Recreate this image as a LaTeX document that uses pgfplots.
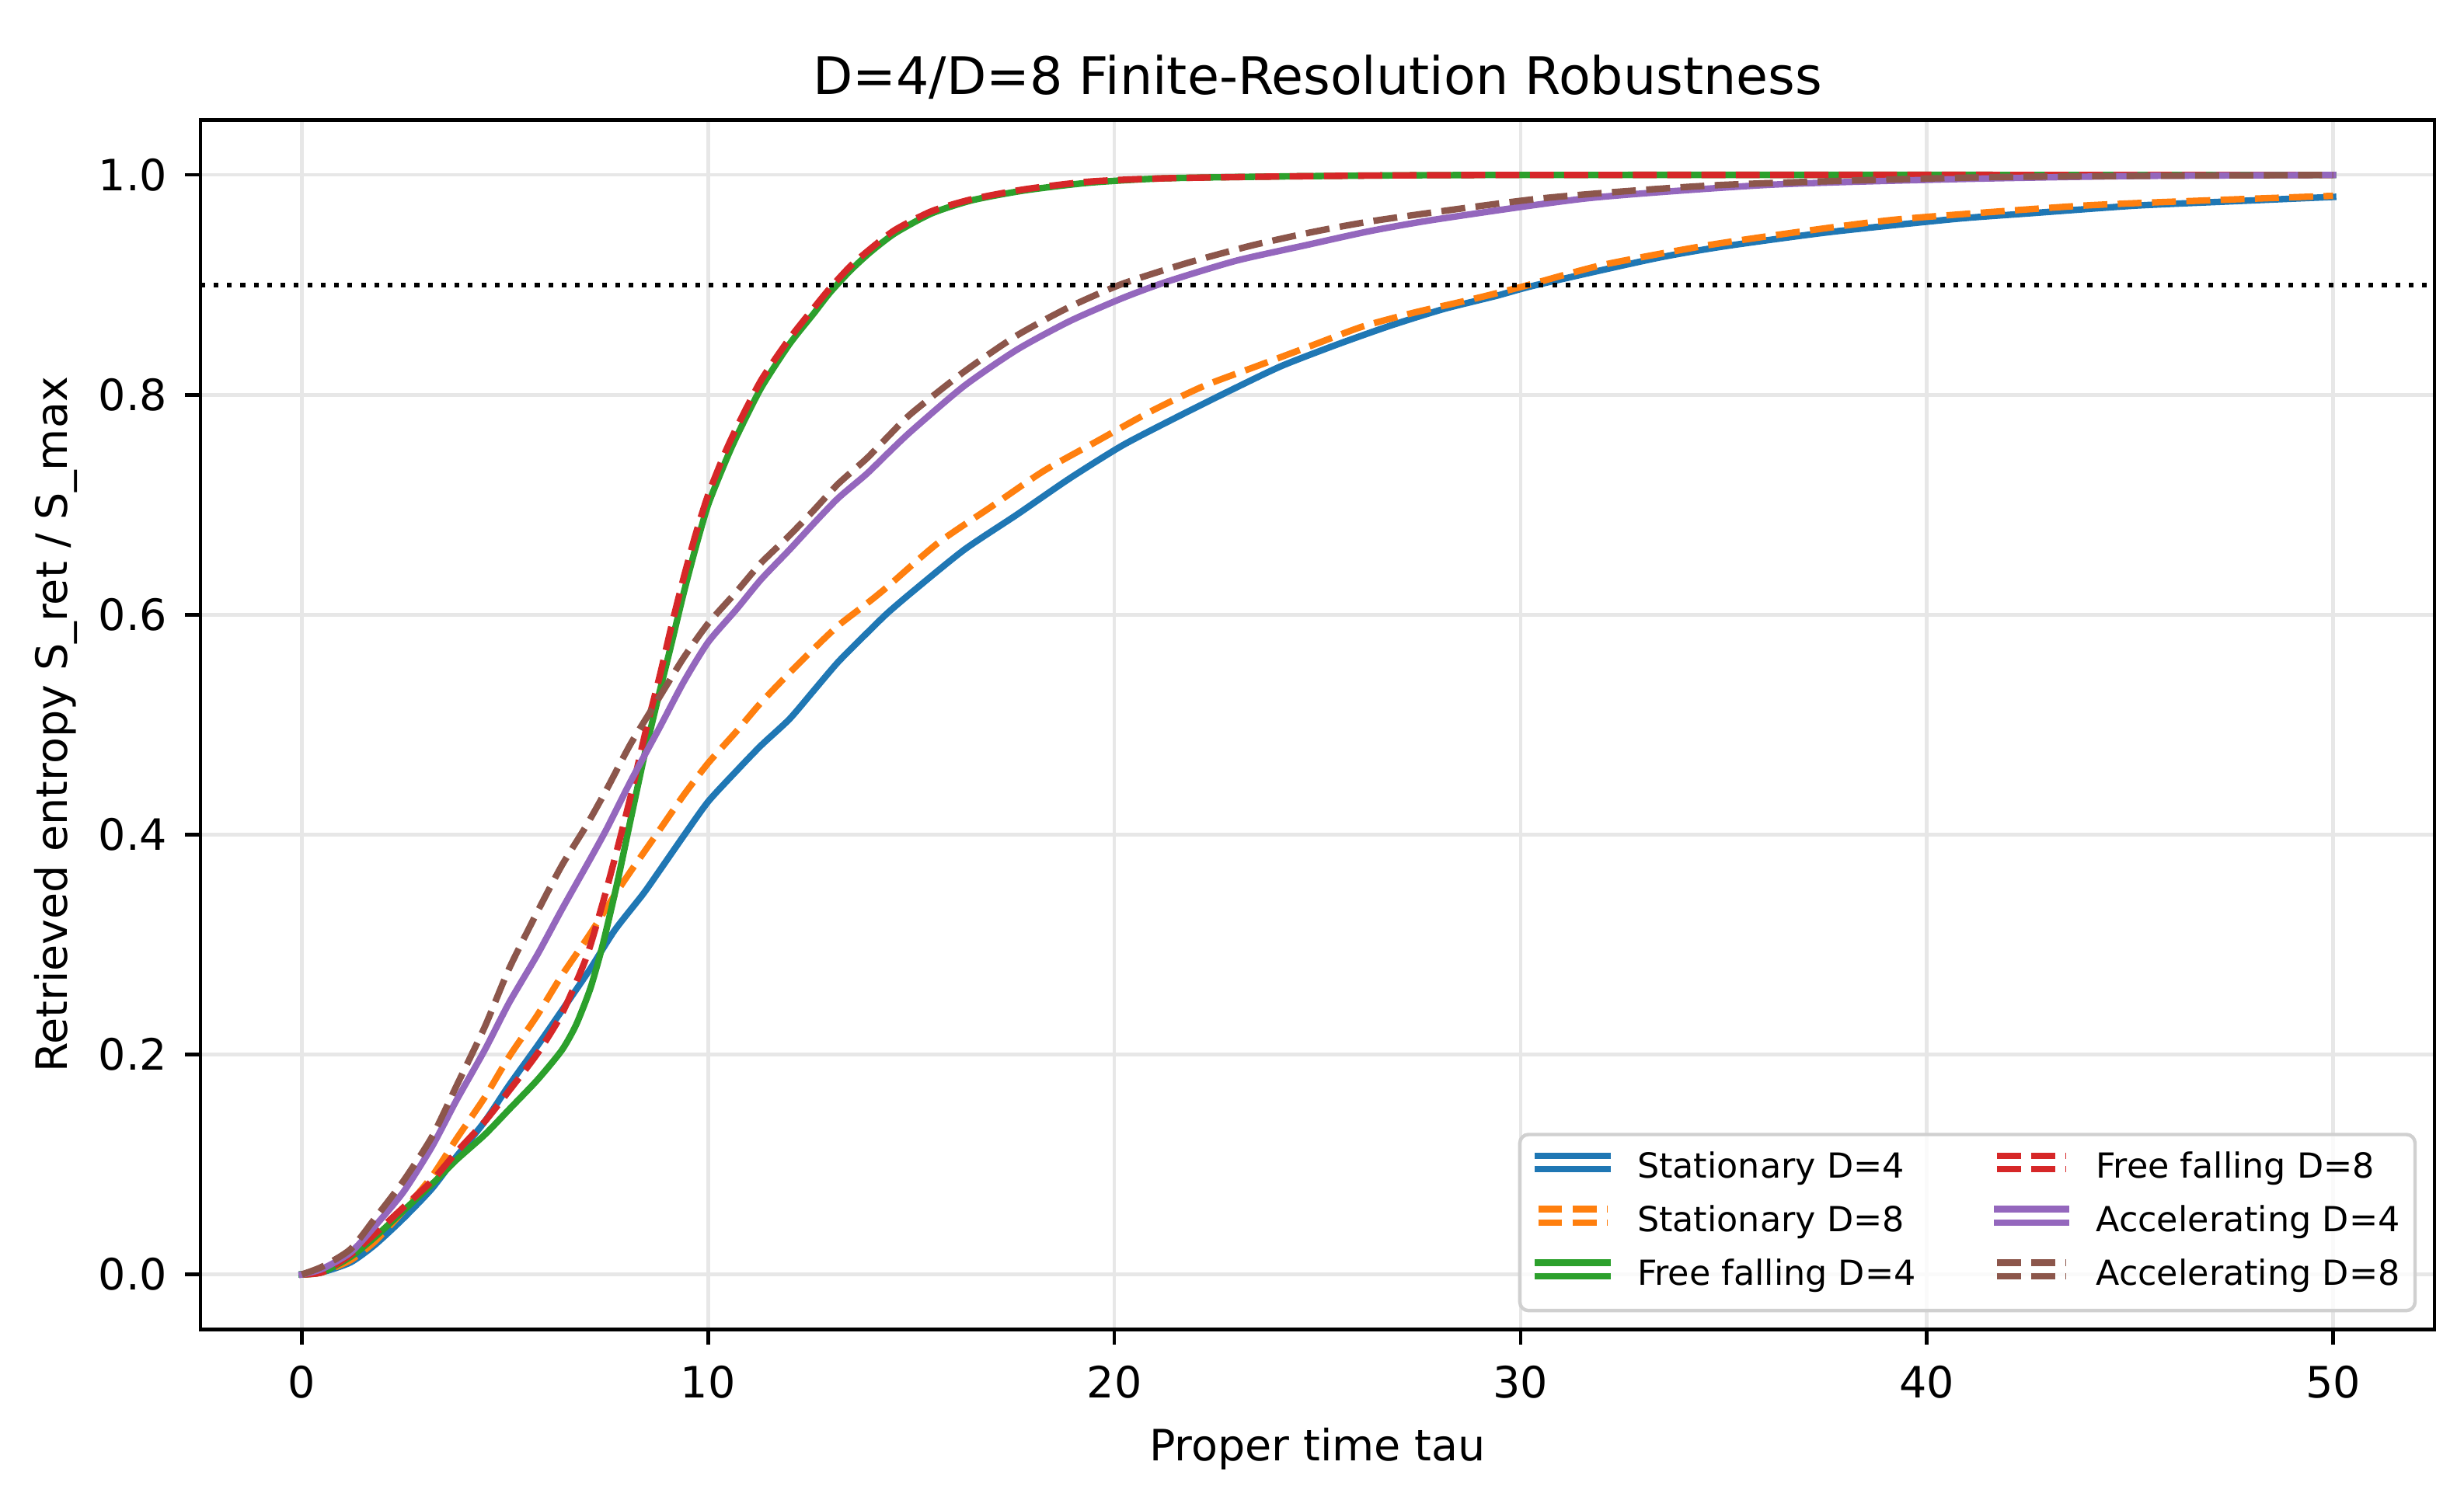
\documentclass[border=0pt]{standalone}
\usepackage{fontspec}
\setmainfont{DejaVu Sans}
\usepackage{pgfplots}
\usepackage{pgfplotstable}
\pgfplotsset{compat=1.18}

\definecolor{c0}{HTML}{1F77B4}
\definecolor{c1}{HTML}{FF7F0E}
\definecolor{c2}{HTML}{2CA02C}
\definecolor{c3}{HTML}{D62728}
\definecolor{c4}{HTML}{9467BD}
\definecolor{c5}{HTML}{8C564B}
\definecolor{gridc}{HTML}{E7E7E7}
\definecolor{legc}{HTML}{D0D0D0}

\pgfplotstableread{
t y
0 0
0.5 0.002
1.2 0.011
1.8 0.027
2.5 0.051
3.2 0.078
3.8 0.107
4.5 0.139
5.1 0.172
5.8 0.208
6.4 0.240
7.1 0.278
7.7 0.313
8.4 0.346
8.8 0.367
9.4 0.399
10.0 0.430
10.7 0.458
11.3 0.481
12.0 0.505
12.6 0.531
13.2 0.557
13.9 0.583
14.4 0.601
15.0 0.620
16.3 0.659
17.6 0.691
18.9 0.724
20.2 0.754
21.5 0.779
22.8 0.803
24.1 0.826
25.5 0.846
26.8 0.863
28.1 0.878
29.4 0.890
30.4 0.900
33.3 0.924
35.0 0.935
37.6 0.948
40.7 0.960
42.5 0.965
45.1 0.972
47.5 0.976
50 0.980
}\statfour

\pgfplotstableread{
t y
0 0
0.5 0.002
1.2 0.013
1.8 0.030
2.5 0.058
3.2 0.089
3.8 0.123
4.5 0.161
5.1 0.198
5.8 0.236
6.4 0.272
7.1 0.310
7.7 0.345
8.1 0.367
8.8 0.404
9.4 0.436
10.0 0.465
10.7 0.494
11.3 0.520
12.0 0.547
12.6 0.569
13.2 0.590
13.9 0.610
14.4 0.625
15.65 0.665
16.96 0.698
18.27 0.731
19.58 0.758
20.9 0.785
22.2 0.808
23.5 0.826
24.8 0.844
26.1 0.862
27.4 0.875
28.7 0.886
30.0 0.898
32.0 0.918
34.6 0.936
37.0 0.949
39.4 0.960
43.8 0.972
47.0 0.977
50 0.981
}\stateight

\pgfplotstableread{
t y
0 0
0.5 0.002
1.2 0.016
1.8 0.034
2.5 0.058
3.2 0.082
3.8 0.104
4.5 0.127
5.1 0.150
5.8 0.177
6.4 0.204
6.75 0.227
7.1 0.260
7.4 0.299
7.75 0.354
8.1 0.415
8.45 0.475
8.8 0.529
9.1 0.574
9.4 0.620
9.7 0.662
10.0 0.700
10.4 0.737
10.7 0.762
11.3 0.806
12.0 0.846
12.6 0.874
13.0 0.893
13.5 0.913
14.0 0.930
14.6 0.947
15.5 0.965
16.5 0.977
17.8 0.986
19.4 0.993
21.3 0.997
25 0.999
30 1.0
50 1.0
}\freefour

\pgfplotstableread{
t y
0 0
0.5 0.002
1.2 0.018
1.8 0.037
2.5 0.061
3.2 0.085
3.8 0.111
4.5 0.139
5.1 0.167
5.8 0.201
6.4 0.237
7.0 0.288
7.4 0.337
7.75 0.385
8.1 0.436
8.45 0.492
8.8 0.543
9.1 0.590
9.4 0.634
9.7 0.674
10.0 0.709
10.4 0.746
10.7 0.770
11.3 0.813
12.0 0.851
12.6 0.879
13.0 0.897
13.5 0.917
14.0 0.933
14.6 0.950
15.5 0.967
16.5 0.978
17.8 0.987
19.4 0.994
21.3 0.997
25 0.999
30 1.0
50 1.0
}\freeeight

\pgfplotstableread{
t y
0 0
0.5 0.005
1.2 0.020
1.8 0.044
2.5 0.075
3.2 0.116
3.8 0.158
4.5 0.204
5.1 0.247
5.8 0.291
6.4 0.332
7.1 0.378
7.5 0.405
8.1 0.449
8.8 0.497
9.4 0.539
10.0 0.575
10.7 0.605
11.3 0.632
12.0 0.659
12.6 0.683
13.2 0.706
13.9 0.728
14.4 0.746
15.0 0.767
16.3 0.808
17.6 0.841
18.9 0.867
20.2 0.888
21.3 0.903
23.0 0.922
24.7 0.936
26.3 0.949
28.0 0.960
31.7 0.979
36.1 0.991
40.5 0.996
45 0.999
50 1.0
}\accfour

\pgfplotstableread{
t y
0 0
0.5 0.007
1.2 0.023
1.8 0.051
2.5 0.085
3.2 0.125
3.8 0.171
4.5 0.225
5.1 0.278
5.8 0.330
6.4 0.372
7.0 0.408
7.5 0.441
8.1 0.483
8.8 0.525
9.4 0.561
10.0 0.592
10.7 0.621
11.3 0.647
12.0 0.672
12.6 0.695
13.2 0.719
13.9 0.742
14.4 0.761
15.0 0.783
16.3 0.821
17.6 0.854
18.9 0.880
20.2 0.901
21.8 0.920
23.4 0.936
25.0 0.949
26.7 0.960
30.6 0.979
35.0 0.991
41.6 0.998
50 1.0
}\acceight

\begin{document}
\begin{tikzpicture}
\useasboundingbox (-46.4pt,-37.8pt) rectangle (524.3pt,308.0pt);
\begin{axis}[
  scale only axis,
  width=517.5pt, height=280.2pt,
  xmin=-2.5, xmax=52.5, ymin=-0.05, ymax=1.05,
  xtick={0,10,20,30,40,50},
  ytick={0,0.2,0.4,0.6,0.8,1.0},
  y tick label style={/pgf/number format/fixed, /pgf/number format/fixed zerofill, /pgf/number format/precision=1},
  /pgf/number format/assume math mode=true,
  tick label style={font=\fontsize{10}{12}\selectfont, inner sep=0pt},
  xticklabel style={yshift=-4.8pt},
  yticklabel style={xshift=-4.0pt},
  tick align=outside,
  xtick pos=bottom, ytick pos=left,
  major tick length=3.5pt,
  every tick/.style={black, line width=0.8pt},
  axis line style={black, line width=0.8pt},
  grid=major,
  major grid style={gridc, line width=0.8pt},
  title={D=4/D=8 Finite-Resolution Robustness},
  title style={font=\fontsize{12}{14.4}\selectfont, at={(axis description cs:0.5,1)}, anchor=base, inner sep=0pt},
  xlabel={Proper time tau},
  xlabel style={font=\fontsize{10}{12}\selectfont, at={(axis description cs:0.5,-0.1085)}, anchor=base, inner sep=0pt},
  ylabel={Retrieved entropy S\_ret / S\_max},
  ylabel style={font=\fontsize{10}{12}\selectfont, at={(axis description cs:-0.0595,0.5)}, anchor=base, inner sep=0pt},
  legend columns=2,
  legend cell align=left,
  legend image code/.code={\path (0pt,0pt) -- (16pt,0pt); \draw[#1] (0pt,3.1pt) -- (16pt,3.1pt);},
  legend style={at={(0.992,0.0141)}, anchor=south east,
    draw=legc, line width=0.8pt, rounded corners=2pt,
    fill=white, fill opacity=0.8, text opacity=1,
    font=\fontsize{8}{9.6}\selectfont,
    inner xsep=3.5pt, inner ysep=4pt, row sep=4.4pt,
    nodes={inner sep=0pt, text height=6.1pt, text depth=1.9pt},
    /tikz/every odd column/.append style={column sep=6.2pt},
    /tikz/every even column/.append style={column sep=18pt}},
  solidline/.style={line width=1.5pt, line cap=rect, line join=round},
  dashline/.style={line width=1.5pt, dash pattern=on 5.55pt off 2.4pt, line join=round},
]
\addplot[c0, solidline, smooth, tension=0.4, forget plot] table[x=t,y=y] {\statfour};
\addplot[c1, dashline, smooth, tension=0.4, forget plot] table[x=t,y=y] {\stateight};
\addplot[c2, solidline, smooth, tension=0.4, forget plot] table[x=t,y=y] {\freefour};
\addplot[c3, dashline, smooth, tension=0.4, forget plot] table[x=t,y=y] {\freeeight};
\addplot[c4, solidline, smooth, tension=0.4, forget plot] table[x=t,y=y] {\accfour};
\addplot[c5, dashline, smooth, tension=0.4, forget plot] table[x=t,y=y] {\acceight};
\addplot[black, line width=1pt, dash pattern=on 1.1pt off 2pt, forget plot] coordinates {(-2.5,0.9) (52.5,0.9)};
% legend in matplotlib column-major order
\addlegendimage{c0, solidline}
\addlegendentry{Stationary D=4}
\addlegendimage{c3, dashline}
\addlegendentry{Free falling D=8}
\addlegendimage{c1, dashline}
\addlegendentry{Stationary D=8}
\addlegendimage{c4, solidline}
\addlegendentry{Accelerating D=4}
\addlegendimage{c2, solidline}
\addlegendentry{Free falling D=4}
\addlegendimage{c5, dashline}
\addlegendentry{Accelerating D=8}
\end{axis}
\end{tikzpicture}
\end{document}
